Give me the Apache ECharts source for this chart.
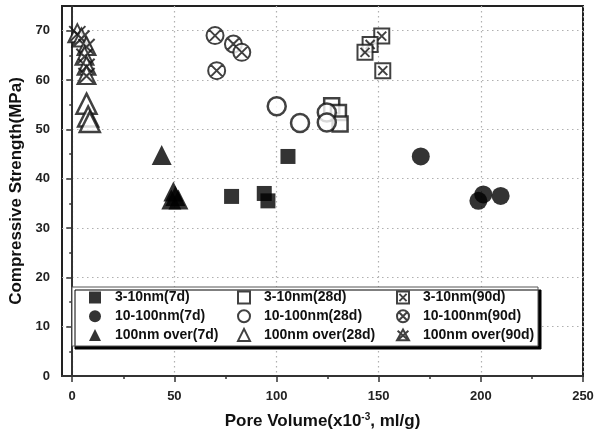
<!DOCTYPE html>
<html>
<head>
<meta charset="utf-8">
<script src="https://cdn.jsdelivr.net/npm/echarts@6/dist/echarts.min.js"></script>
<style>
  html, body { margin: 0; padding: 0; background: #fff; }
  #chart { width: 594px; height: 440px; }
</style>
</head>
<body>
<div id="chart"></div>
<script>
  // 数据 (pore volume x10^-3 ml/g, compressive strength MPa)
  const sq7 = [[78, 36.4], [94, 37], [95.8, 35.5], [105.6, 44.5]];
  const ci7 = [[170.6, 44.5], [198.8, 35.5], [201.2, 36.8], [209.7, 36.5]];
  const tr7 = [[43.8, 44.8], [49.5, 37.4], [50.5, 36.5], [48.5, 35.8], [52, 35.8]];
  const sq28 = [[127, 54.8], [130.3, 53.4], [131.1, 51.1]];
  const ci28 = [[100.1, 54.7], [111.5, 51.3], [124.6, 53.4], [124.6, 51.4]];
  const tr28 = [[7, 55.2], [7.8, 52.6], [8.6, 51.5]];
  const sq90 = [[151.5, 68.9], [145.8, 67.2], [143.3, 65.6], [152, 61.9]];
  const ci90 = [[69.9, 69], [78.9, 67.3], [83, 65.6], [70.7, 61.9]];
  const tr90 = [[2.5, 69.5], [4.5, 68.6], [7, 66.9], [6, 64.9], [7, 62.9], [7, 61]];

  const xTicks = [0, 50, 100, 150, 200, 250];
  const xMinor = [25, 75, 125, 175, 225];
  const yTicks = [0, 10, 20, 30, 40, 50, 60, 70];
  const yMinor = [5, 15, 25, 35, 45, 55, 65];

  const FONT = '"Liberation Sans", Arial, sans-serif';

  // 自定义符号
  const crossSquare = 'path://M0,0L20,0L20,20L0,20Z M4,4L16,16 M16,4L4,16';
  const crossCircle = 'path://M0,10A10,10,0,1,1,20,10A10,10,0,1,1,0,10Z M2.93,2.93L17.07,17.07 M17.07,2.93L2.93,17.07';
  const crossTriangle = 'path://M10,0L20,18L0,18Z M1,2L19,18 M19,2L1,18';

  const chart = echarts.init(document.getElementById('chart'));

  const filled = { color: '#000', borderWidth: 0 };
  const hollow = { color: '#fff', borderColor: '#111', borderWidth: 2.5 };
  const crossed = { color: '#fff', borderColor: '#111', borderWidth: 2 };

  const mk = (name, data, symbol, size, style) => ({
    name: name,
    type: 'scatter',
    data: data,
    symbol: symbol,
    symbolSize: size,
    itemStyle: style,
    z: 3
  });

  const legendBase = {
    orient: 'vertical',
    top: 290.5,
    padding: 0,
    itemWidth: 12,
    itemHeight: 12,
    itemGap: 4.7,
    z: 10,
    textStyle: { fontFamily: FONT, fontSize: 14, fontWeight: 'bold', color: '#111', padding: [0, 0, 0, 9] }
  };

  const option = {
    backgroundColor: '#fff',
    animation: false,
    grid: {
      left: 62, right: 11, top: 6, bottom: 64,
      outerBoundsMode: 'none',
      show: true, borderColor: '#222', borderWidth: 2
    },
    xAxis: [{
        type: 'value', min: -5, max: 250,
        position: 'bottom',
        name: 'Pore Volume(x10{sup|-3}, ml/g)',
        nameLocation: 'middle',
        nameGap: 36,
        nameTextStyle: {
          fontFamily: FONT, fontSize: 17, fontWeight: 'bold', color: '#111',
          rich: { sup: { fontFamily: FONT, fontSize: 10, fontWeight: 'bold', color: '#111', padding: [0, 0, 9, 0] } }
        },
        axisLine: { lineStyle: { color: '#333', width: 2 } },
        axisTick: { show: true, inside: false, length: 6, customValues: xTicks, lineStyle: { color: '#333', width: 1.5 } },
        axisLabel: { customValues: xTicks, margin: 14, fontFamily: FONT, fontSize: 13, fontWeight: 'bold', color: '#222' },
        splitLine: { show: true, lineStyle: { color: '#b0b0b0', type: [1.5, 3.5], width: 1.2 } }
      },
      {
        type: 'value', min: -5, max: 250,
        position: 'bottom',
        axisLine: { show: false },
        axisTick: { show: true, length: 3, customValues: xMinor, lineStyle: { color: '#333', width: 1.5 } },
        axisLabel: { show: false },
        splitLine: { show: false }
      }
    ],
    yAxis: [{
        type: 'value', min: 0, max: 75,
        position: 'left',
        name: 'Compressive Strength(MPa)',
        nameLocation: 'middle',
        nameGap: 36,
        nameTextStyle: { fontFamily: FONT, fontSize: 17, fontWeight: 'bold', color: '#111' },
        axisLine: { show: true, lineStyle: { color: '#333', width: 2 } },
        axisTick: { show: true, inside: false, length: 6, customValues: yTicks, lineStyle: { color: '#333', width: 1.5 } },
        axisLabel: { customValues: yTicks, margin: 12, fontFamily: FONT, fontSize: 13, fontWeight: 'bold', color: '#222' },
        splitLine: { show: true, lineStyle: { color: '#b0b0b0', type: [1.5, 3.5], width: 1.2 } }
      },
      {
        type: 'value', min: 0, max: 75,
        position: 'left',
        axisLine: { show: false },
        axisTick: { show: true, length: 3, customValues: yMinor, lineStyle: { color: '#333', width: 1.5 } },
        axisLabel: { show: false },
        splitLine: { show: false }
      }
    ],
    graphic: [{
      type: 'rect',
      z: 8,
      shape: { x: 72, y: 287, width: 466, height: 59 },
      style: {
        fill: '#fff', stroke: '#555', lineWidth: 1,
        shadowColor: '#000', shadowBlur: 0, shadowOffsetX: 3, shadowOffsetY: 3
      }
    }],
    legend: [
      Object.assign({}, legendBase, { left: 89, data: ['3-10nm(7d)', '10-100nm(7d)', '100nm over(7d)'] }),
      Object.assign({}, legendBase, { left: 237, data: ['3-10nm(28d)', '10-100nm(28d)', '100nm over(28d)'] }),
      Object.assign({}, legendBase, { left: 396, data: ['3-10nm(90d)', '10-100nm(90d)', '100nm over(90d)'] })
    ],
    series: [
      mk('3-10nm(7d)', sq7, 'rect', 15, filled),
      mk('10-100nm(7d)', ci7, 'circle', 18, filled),
      mk('100nm over(7d)', tr7, 'triangle', 20, filled),
      mk('3-10nm(28d)', sq28, 'rect', 15, hollow),
      mk('10-100nm(28d)', ci28, 'circle', 18, hollow),
      mk('100nm over(28d)', tr28, 'triangle', 20, hollow),
      mk('3-10nm(90d)', sq90, crossSquare, 15, crossed),
      mk('10-100nm(90d)', ci90, crossCircle, 17, crossed),
      mk('100nm over(90d)', tr90, crossTriangle, 18, crossed)
    ]
  };

  chart.setOption(option);
</script>
</body>
</html>
